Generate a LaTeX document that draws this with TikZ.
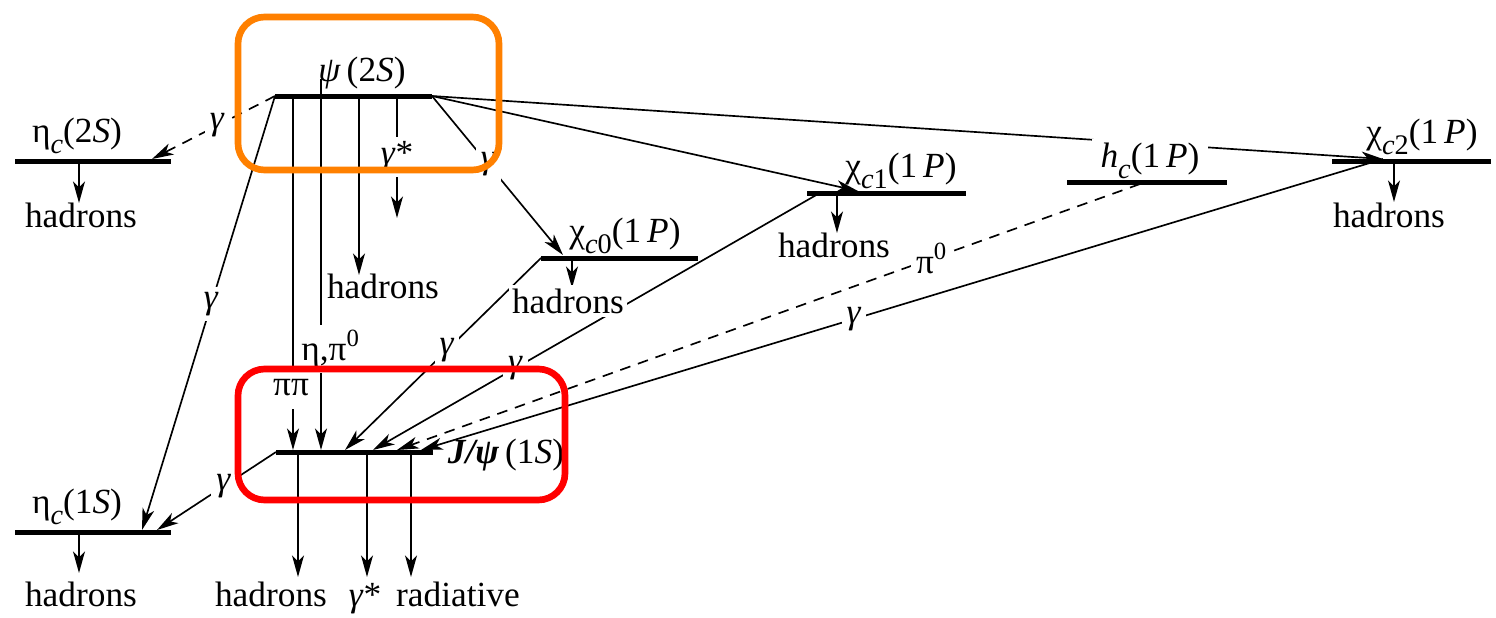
\documentclass[tikz,border=0pt]{standalone}
\usepackage{fontspec}
\setmainfont{Liberation Serif}
\usetikzlibrary{arrows.meta}
\definecolor{orng}{RGB}{255,128,0}
\definecolor{rd}{RGB}{255,0,0}
\newcommand{\sbs}[1]{\raisebox{-0.7ex}{\fontsize{8.5}{9}\selectfont #1}}
\begin{document}
\begin{tikzpicture}[x=0.3pt,y=-0.3pt,
 every node/.style={font=\fontsize{10.6}{12.5}\selectfont, inner sep=1pt},
 lvl/.style={line width=1.5pt},
 thn/.style={line width=0.5pt},
 arr/.style={thn,-{Stealth[length=6.5pt,width=3.6pt,inset=1.8pt]}},
 dsh/.style={dash pattern=on 3.2pt off 2.4pt},
 gap/.style={fill=white, inner sep=1.5pt},
 box/.style={line width=2pt, rounded corners=8pt}]
\useasboundingbox (0,0) rectangle (1496,618);

% ---- level bars
\draw[lvl] (275,96) coordinate (psiL) -- (432,96) coordinate (psiR);
\draw[lvl] (15,161) coordinate (etaTwoL) -- (171,161) coordinate (etaTwoR);
\draw[lvl] (541,258) coordinate (cZeroL) -- (698,258) coordinate (cZeroR);
\draw[lvl] (807,193) coordinate (cOneL) -- (966,193) coordinate (cOneR);
\draw[lvl] (1332,161) coordinate (cTwoL) -- (1491,161) coordinate (cTwoR);
\draw[lvl] (276,452) coordinate (jL) -- (433,452) coordinate (jR);
\draw[lvl] (15,532) coordinate (etaOneL) -- (171,532) coordinate (etaOneR);

% ---- coordinates on bars
\coordinate (etaTwoTip) at (152,159);
\coordinate (etaOneTipA) at (142,530);
\coordinate (etaOneTipB) at (157,530);
\coordinate (cZeroTip) at (563,255);
\coordinate (cOneTip) at (858,191);
\coordinate (cOneS) at (818,194);
\coordinate (cTwoTip) at (1383,159);
\coordinate (hcS) at (1140,184);
\coordinate (jTipA) at (345,450);
\coordinate (jTipB) at (373,450);
\coordinate (jTipC) at (397,450);
\coordinate (jTipD) at (421,450);

% ---- diagonal transitions
\draw[arr,dsh] (psiL) -- node[pos=0.47,gap] (gA) {\textit{γ}} (etaTwoTip);
\draw[arr] (psiL) -- node[pos=0.48,gap] (gB) {\textit{γ}} (etaOneTipA);
\draw[arr] (psiR) -- node[pos=0.43,gap] (gC) {\textit{γ}} (cZeroTip);
\draw[arr] (psiR) -- (cOneTip);
\draw[arr] (psiR) -- (cTwoTip);
\draw[arr] (cZeroL) -- node[pos=0.48,gap] (gD) {\textit{γ}} (jTipA);
\draw[arr] (cOneS) -- node[pos=0.68,gap] (gE) {\textit{γ}} (jTipB);
\draw[arr,dsh] (hcS) -- node[pos=0.28,gap] (piZ) {π\textsuperscript{0}} (jTipC);
\draw[arr] (cTwoTip) -- node[pos=0.55,gap] (gF) {\textit{γ}} (jTipD);
\draw[arr] (jL) -- node[pos=0.44,gap] (gG) {\textit{γ}} (etaOneTipB);

% ---- vertical transitions from psi(2S)
\coordinate (pipiS) at (293,96);  \coordinate (pipiE) at (293,450);
\coordinate (etpS) at (321,79);   \coordinate (etpE) at (321,450);
\coordinate (hadS) at (359,96);   \coordinate (hadE) at (359,275);
\coordinate (gsS) at (397,96);    \coordinate (gsE) at (397,218);
\draw[arr] (pipiS) -- (pipiE);
\draw[arr] (etpS) -- (etpE);
\draw[arr] (hadS) -- (hadE);
\draw[arr] (gsS) -- node[gap] (gstar) {\textit{γ}*} (gsE);
\node[gap, minimum height=12.6pt] (pipi) at (291,388) {ππ};
\node[gap, inner sep=1.5pt] (etapi) at (331,349) {η,π\textsuperscript{0}};

% ---- hadrons decays
\draw[arr] (79,161) -- (79,203);
\draw[arr] (572,258) -- (572,288);
\draw[arr] (837,193) -- (837,233);
\draw[arr] (1394,161) -- (1394,202);
\draw[arr] (79,532) -- (79,573);
\draw[arr] (298,452) -- (298,577);
\draw[arr] (367,452) -- (367,577);
\draw[arr] (411,452) -- (411,577);

% ---- level labels
\node[anchor=base] (tPsi) at (362,81) {\textit{ψ}\,(2\textit{S})};
\node[anchor=base] (tEtaTwo) at (77,142) {η\sbs{\textit{c}}(2\textit{S})};
\node[anchor=base] (tCZero) at (625,242) {χ\sbs{\textit{c}0}(1\,\textit{P})};
\node[anchor=base] (tCOne) at (901,177) {χ\sbs{\textit{c}1}(1\,\textit{P})};
\node[anchor=base, fill=white, inner xsep=2.5pt] (tHc) at (1150,167) {\textit{h}\sbs{\textit{c}}(1\,\textit{P})};
\draw[lvl] (1067,182) coordinate (hcL) -- (1227,182) coordinate (hcR);
\node[anchor=base] (tCTwo) at (1422,143) {χ\sbs{\textit{c}2}(1\,\textit{P})};
\node[anchor=base] (tJ) at (506,463) {\textbf{\textit{J/ψ}}\,(1\textit{S})};
\node[anchor=base] (tEtaOne) at (77,513) {η\sbs{\textit{c}}(1\textit{S})};

% ---- decay product labels
\node[anchor=base] (hA) at (81,227) {hadrons};
\node[anchor=base] (hB) at (383,298) {hadrons};
\node[anchor=base, fill=white] (hC) at (568,313) {hadrons};
\node[anchor=base] (hD) at (834,257) {hadrons};
\node[anchor=base] (hE) at (1389,227) {hadrons};
\node[anchor=base] (hF) at (81,606) {hadrons};
\node[anchor=base] (hG) at (271,606) {hadrons};
\node[anchor=base] (gsJ) at (365,606) {\textit{γ}*};
\node[anchor=base] (rad) at (458,606) {radiative};

% ---- highlight boxes
\draw[box, orng] (238,17) rectangle (499,170);
\draw[box, rd] (238,369) rectangle (565,500);
\end{tikzpicture}
\end{document}
